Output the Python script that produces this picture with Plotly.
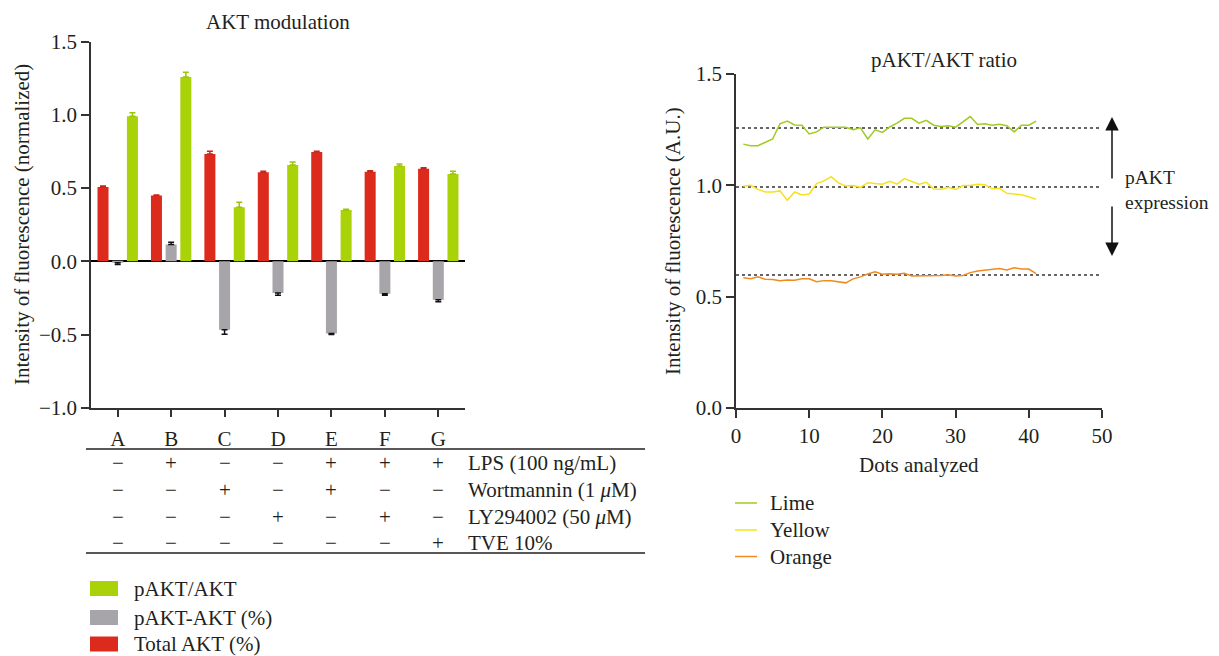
import plotly.graph_objects as go

# ---------------- data ----------------
categories = ["A", "B", "C", "D", "E", "F", "G"]
total_akt = [0.508, 0.449, 0.733, 0.608, 0.747, 0.612, 0.633]
total_akt_err = [0.006, 0.004, 0.018, 0.007, 0.004, 0.006, 0.006]
pakt_minus_akt = [-0.010, 0.114, -0.467, -0.216, -0.494, -0.221, -0.262]
pakt_minus_akt_err = [0.012, 0.016, 0.032, 0.016, 0.006, 0.011, 0.014]
pakt_ratio = [0.990, 1.259, 0.369, 0.658, 0.351, 0.651, 0.597]
pakt_ratio_err = [0.025, 0.032, 0.034, 0.020, 0.005, 0.014, 0.018]

treatments = ["LPS (100 ng/mL)", "Wortmannin (1 <i>μ</i>M)", "LY294002 (50 <i>μ</i>M)", "TVE 10%"]
lps = ["−", "+", "−", "−", "+", "+", "+"]
wortmannin = ["−", "−", "+", "−", "+", "−", "−"]
ly294002 = ["−", "−", "−", "+", "−", "+", "−"]
tve = ["−", "−", "−", "−", "−", "−", "+"]

dots = list(range(1, 42))
lime = [1.185, 1.178, 1.178, 1.192, 1.208, 1.276, 1.289, 1.271, 1.270, 1.231,
        1.240, 1.261, 1.261, 1.264, 1.261, 1.250, 1.258, 1.208, 1.249, 1.238,
        1.262, 1.279, 1.301, 1.301, 1.279, 1.292, 1.270, 1.264, 1.268, 1.261,
        1.286, 1.309, 1.273, 1.277, 1.270, 1.274, 1.268, 1.240, 1.270, 1.270, 1.288]
yellow = [0.996, 1.000, 0.982, 0.970, 0.970, 0.975, 0.933, 0.970, 0.957, 0.961,
          1.008, 1.020, 1.039, 1.011, 0.997, 0.999, 0.991, 1.012, 1.008, 1.005,
          1.018, 1.005, 1.030, 1.017, 1.005, 1.014, 0.984, 0.982, 0.991, 0.981,
          0.999, 0.999, 1.005, 1.003, 0.985, 0.987, 0.964, 0.961, 0.958, 0.949, 0.937]
orange = [0.585, 0.581, 0.589, 0.578, 0.577, 0.571, 0.575, 0.574, 0.580, 0.580,
          0.567, 0.572, 0.571, 0.565, 0.562, 0.580, 0.589, 0.602, 0.612, 0.601,
          0.603, 0.601, 0.605, 0.593, 0.593, 0.593, 0.593, 0.595, 0.598, 0.593,
          0.595, 0.608, 0.615, 0.618, 0.624, 0.626, 0.620, 0.630, 0.624, 0.624, 0.603]
ref_levels = [1.258, 0.993, 0.597]
line_names = ["Lime", "Yellow", "Orange"]

# ---------------- style ----------------
OFF = 8  # page body margin
W, H = 1219 - OFF, 656 - OFF
FONT = "Liberation Serif"
TXT = "#231f20"
AX = "#333333"
RED, GRAY, GREEN = "#dc2b1d", "#a7a5a9", "#a9d308"
LIME_C, YELLOW_C, ORANGE_C = "#9fcb22", "#f7e21a", "#f28a1f"
FS = 21


def px(x):
    return (x - OFF) / W


def py(y):
    return 1 - (y - OFF) / H


def up_down(vals, errs):
    plus = [e if v >= 0 else 0 for v, e in zip(vals, errs)]
    minus = [e if v < 0 else 0 for v, e in zip(vals, errs)]
    return plus, minus


fig = go.Figure()

for vals, errs, col, ecol, name in [
    (total_akt, total_akt_err, RED, "#c8261a", "Total AKT (%)"),
    (pakt_minus_akt, pakt_minus_akt_err, GRAY, "#111111", "pAKT-AKT (%)"),
    (pakt_ratio, pakt_ratio_err, GREEN, "#9cc407", "pAKT/AKT"),
]:
    p, m = up_down(vals, errs)
    fig.add_trace(go.Bar(
        x=categories, y=vals, name=name, marker=dict(color=col, line=dict(width=0)),
        error_y=dict(type="data", symmetric=False, array=p, arrayminus=m,
                     color=ecol, thickness=1.5, width=3),
        xaxis="x", yaxis="y", showlegend=False))

for lvl in ref_levels:
    fig.add_trace(go.Scatter(x=[0, 50], y=[lvl, lvl], mode="lines",
                             line=dict(color="#333333", width=1.5, dash="dot"),
                             xaxis="x2", yaxis="y2", showlegend=False, hoverinfo="skip"))

for ys, col, name in [(lime, LIME_C, "Lime"), (yellow, YELLOW_C, "Yellow"), (orange, ORANGE_C, "Orange")]:
    fig.add_trace(go.Scatter(x=dots, y=ys, mode="lines", name=name,
                             line=dict(color=col, width=1.5),
                             xaxis="x2", yaxis="y2", showlegend=False))

axis_common = dict(showline=True, linecolor=AX, linewidth=1.5, ticks="outside",
                   ticklen=8, tickwidth=1.5, tickcolor=AX, showgrid=False, automargin=False,
                   tickfont=dict(family=FONT, size=FS, color=TXT))

fig.update_layout(
    width=W, height=H, margin=dict(l=0, r=0, t=0, b=0, pad=0, autoexpand=False),
    paper_bgcolor="white", plot_bgcolor="white",
    font=dict(family=FONT, size=FS, color=TXT),
    barmode="group", bargap=0.175, bargroupgap=0.25,
    xaxis=dict(domain=[px(91), px(465)], range=[-0.5, 6.5], anchor="y",
               zeroline=False, ticklabelstandoff=3, **axis_common),
    yaxis=dict(domain=[py(407.7), py(41.7)], range=[-1.0, 1.5], anchor="x",
               tickvals=[-1.0, -0.5, 0.0, 0.5, 1.0, 1.5],
               ticktext=["−1.0", "−0.5", "0.0", "0.5", "1.0", "1.5"],
               zeroline=True, zerolinecolor="#000000", zerolinewidth=2, **axis_common),
    xaxis2=dict(domain=[px(736), px(1102)], range=[0, 50], anchor="y2",
                tickvals=[0, 10, 20, 30, 40, 50], zeroline=False, **axis_common),
    yaxis2=dict(domain=[py(408), py(74)], range=[0, 1.5], anchor="x2",
                tickvals=[0, 0.5, 1.0, 1.5], ticktext=["0.0", "0.5", "1.0", "1.5"],
                zeroline=False, **axis_common),
)

ann = []
shapes = []


def text(x, y, t, xanchor="center", angle=0, size=FS):
    ann.append(dict(x=px(x), y=py(y), xref="paper", yref="paper", text=t, showarrow=False,
                    xanchor=xanchor, yanchor="middle", textangle=angle,
                    font=dict(family=FONT, size=size, color=TXT)))


# titles
text(278, 22, "AKT modulation")
text(22, 225, "Intensity of fluorescence (normalized)", angle=-90)
text(944, 60, "pAKT/AKT ratio")
text(673, 241, "Intensity of fluorescence (A.U.)", angle=-90)
text(919, 465, "Dots analyzed")

# treatment table
row_y = [463, 490, 516.5, 543]
for r, (label, signs) in enumerate(zip(treatments, [lps, wortmannin, ly294002, tve])):
    for i, s in enumerate(signs):
        ann.append(dict(x=i, y=py(row_y[r]), xref="x", yref="paper", text=s, showarrow=False,
                        xanchor="center", yanchor="middle",
                        font=dict(family=FONT, size=FS, color=TXT)))
    text(466, row_y[r], label, xanchor="left")
for yy in [449, 553]:
    shapes.append(dict(type="line", xref="paper", yref="paper", x0=px(86), x1=px(645),
                       y0=py(yy), y1=py(yy), line=dict(color=TXT, width=1.5)))

# bar legend
for (lab, col), yy in zip([("pAKT/AKT", GREEN), ("pAKT-AKT (%)", GRAY), ("Total AKT (%)", RED)],
                          [588.5, 617.5, 644]):
    shapes.append(dict(type="rect", xref="paper", yref="paper", x0=px(90), x1=px(118),
                       y0=py(yy - 7.5), y1=py(yy + 7.5), fillcolor=col, line=dict(width=0)))
    text(132, yy, lab, xanchor="left")

# line legend
for (lab, col), yy in zip([("Lime", LIME_C), ("Yellow", YELLOW_C), ("Orange", ORANGE_C)],
                          [503, 530, 556.5]):
    shapes.append(dict(type="line", xref="paper", yref="paper", x0=px(735), x1=px(757),
                       y0=py(yy), y1=py(yy), line=dict(color=col, width=1.5)))
    text(768, yy, lab, xanchor="left")

# expression arrows (tip position in paper coords, tail offset in pixels)
for tip, tail_off in [(117, 63), (256, -51)]:
    ann.append(dict(x=px(1112), y=py(tip), xref="paper", yref="paper",
                    ax=0, ay=tail_off, axref="pixel", ayref="pixel",
                    showarrow=True, arrowhead=2, arrowsize=1.8, arrowwidth=1.5,
                    arrowcolor="#111111", text=""))
ann.append(dict(x=px(1123), y=py(190), xref="paper", yref="paper",
                text="pAKT<br>expression", showarrow=False, xanchor="left", yanchor="middle",
                align="left", font=dict(family=FONT, size=19.5, color=TXT)))

fig.update_layout(annotations=ann, shapes=shapes)
fig.write_html("out.html")
